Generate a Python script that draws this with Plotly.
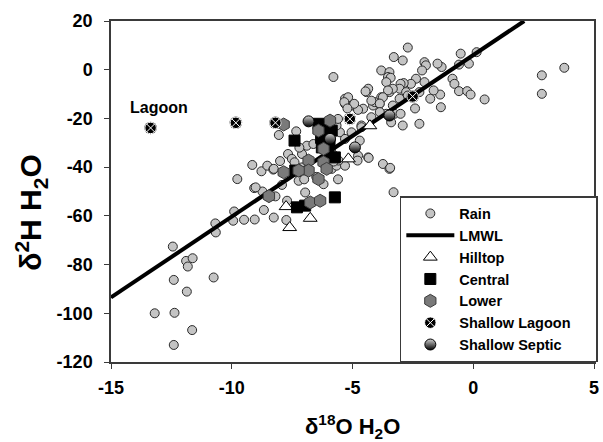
import plotly.graph_objects as go

# ---------------- data ----------------
rain_x = [-13.19, -12.37, -12.4, -11.64, -12.44, -11.89, -11.62, -11.82, -12.40, -10.75, -11.86,
          -10.68, -10.66, -9.90, -9.94, -9.49, -9.05, -8.67, -8.26, -7.74,
          -9.77, -9.15, -8.77, -8.53, -8.28, -9.07, -8.73, -8.19, -7.71, -7.67, -7.51, -8.05, -7.33,
          -7.92, -7.09, -6.89, -6.62, -7.09, -5.86, -5.66, -5.52, -5.66, -5.31, -4.97, -5.31, -4.42,
          -4.15, -3.88, -3.81, -3.47, -3.33, -3.26, -3.6, -4.63, -5.04, -4.7, -5.31, -4.77, -4.35,
          -3.74, -3.47, -3.30, -5.31, -5.58, -6.96, -9.01, -7.23, -8.26,
          3.77, 2.84, 2.84, 0.47, 0.14, -0.52, -0.18, -0.59, -0.86, -0.78, -0.59, -0.25, -0.11,
          -1.34, -1.37, -1.78, -1.64, -1.31, -1.48, -2.02, -1.96, -2.71, -3.29, -2.92, -2.12,
          -2.02, -2.37, -2.58, -2.88, -3.01, -3.05, -3.81, -3.47, -3.53, -3.42, -3.6, -3.33,
          -3.53, -4.35, -4.46, -2.78, -2.71, -2.23, -3.05, -2.41, -2.23, -2.92, -3.4, -3.01,
          -3.74, -4.08, -4.22, -3.87, -4.56, -4.77, -4.93, -5.18, -5.34, -5.21, -5.79, -4.22,
          -3.87, -4.63, -5.6, -4.79, -4.33, -3.44, -5.78, -5.78,
          -6.0, -5.9, -6.5, -7.0, -6.2, -5.6, -7.4, -8.0, -7.2]
rain_y = [-100, -99.8, -113, -106.9, -72.6, -78.5, -77.4, -80.8, -86.3, -85.3, -91.1,
          -63.1, -66.8, -58.2, -62.0, -61.6, -61.5, -57.6, -60.7, -61.7,
          -44.9, -39.1, -41.7, -39.4, -41.0, -48.6, -50.0, -52.0, -53.8, -34.6, -36.6, -26.8, -25.3,
          -47.3, -34.6, -31.2, -30.5, -40.1, -40.7, -39.4, -25.7, -22.9, -14.0, -14.7, -11.9, -9.2,
          -14.7, -14.0, -11.3, -9.2, -14.7, -18.1, -18.1, -22.9, -25.7, -29.1, -28.4, -35.3, -36.0,
          -38.7, -40.7, -50.3, -39.4, -37.3, -50.4, -48.3, -45.6, -40.7,
          0.8, -2.3, -9.9, -12.2, 7.2, 6.6, 2.5, 2.1, -3.7, -5.8, -8.8, -8.8, -10.2,
          -15.4, -10.2, -11.9, -8.5, 1.1, 2.5, 3.1, 1.8, 9.1, 5.2, 3.8, -0.3,
          -5.1, -3.7, -5.8, -5.5, -5.8, -7.8, -0.3, -1.0, -3.0, -3.3, -5.1, -7.8,
          -8.5, -7.8, -8.9, -9.2, -10.6, -9.2, -11.9, -15.9, -22.2, -22.9, -21.6, -18.1,
          -11.3, -13.3, -12.7, -13.9, -16.0, -16.5, -14.0, -11.3, -13.3, -15.9, -3.0, -19.5,
          -17.4, -23.6, -20.2, -37.3, -36.2, -40.3, -35.0, -37.7,
          -28.0, -33.0, -44.0, -45.0, -47.0, -45.0, -38.0, -37.5, -32.0]

lmwl_x = [-15.0, 2.11]
lmwl_y = [-93.5, 20.0]

hill_x = [-7.75, -7.6, -6.75, -5.17, -4.28]
hill_y = [-56.2, -64.8, -61.0, -36.6, -23.0]

cent_x = [-7.4, -6.41, -6.1, -5.86, -6.3, -5.95, -6.27, -5.73, -6.0, -7.37, -7.3, -6.96, -5.73]
cent_y = [-29.1, -22.2, -23.5, -25.0, -28.0, -30.0, -31.9, -36.0, -34.0, -41.4, -56.5, -55.8, -52.4]

low_x = [-7.85, -5.93, -6.41, -6.2, -6.82, -6.2, -6.82, -7.23, -7.85, -6.41, -6.07, -8.46, -6.75, -6.34]
low_y = [-22.5, -20.9, -25.0, -32.5, -37.3, -38.0, -41.4, -41.4, -42.1, -44.9, -40.7, -51.9, -54.5, -53.8]

lag_x = [-13.36, -9.83, -8.19, -5.11, -2.51]
lag_y = [-23.9, -21.8, -21.8, -20.2, -11.0]

sep_x = [-6.82, -5.93, -4.9, -3.47]
sep_y = [-21.2, -28.4, -31.9, -18.8]

x_ticks = [-15, -10, -5, 0, 5]
y_ticks = [20, 0, -20, -40, -60, -80, -100, -120]

FONT = "Liberation Sans, Arial"
PAD = "\u00a0" * 5   # trailing non-breaking spaces: widen legend box to the frame

# ---------------- figure ----------------
fig = go.Figure()
fig.add_trace(go.Scatter(x=rain_x, y=rain_y, mode="markers", name="Rain",
                         marker=dict(symbol="circle", size=9, color="#c4c4c4",
                                     line=dict(color="#2a2a2a", width=1))))
fig.add_trace(go.Scatter(x=lmwl_x, y=lmwl_y, mode="lines", name="LMWL",
                         line=dict(color="black", width=4)))
fig.add_trace(go.Scatter(x=hill_x, y=hill_y, mode="markers", name="Hilltop",
                         marker=dict(symbol="triangle-up", size=12, color="white",
                                     line=dict(color="black", width=1))))
fig.add_trace(go.Scatter(x=cent_x, y=cent_y, mode="markers", name="Central",
                         marker=dict(symbol="square", size=11, color="black",
                                     line=dict(color="black", width=1))))
fig.add_trace(go.Scatter(x=low_x, y=low_y, mode="markers", name="Lower",
                         marker=dict(symbol="hexagon", size=13, color="#7a7a7a",
                                     line=dict(color="#3a3a3a", width=1))))
fig.add_trace(go.Scatter(x=lag_x, y=lag_y, mode="markers", showlegend=False,
                         legendgroup="lag", hoverinfo="skip",
                         marker=dict(symbol="circle", size=12.5, color="black")))
fig.add_trace(go.Scatter(x=lag_x, y=lag_y, mode="markers", name="Shallow Lagoon" + PAD,
                         legendgroup="lag",
                         marker=dict(symbol="circle-x", size=11.5, color="black",
                                     line=dict(color="white", width=1))))
fig.add_trace(go.Scatter(x=sep_x, y=sep_y, mode="markers", name="Shallow Septic",
                         marker=dict(symbol="circle", size=11, color="#d0d0d0",
                                     gradient=dict(type="vertical", color="black"),
                                     line=dict(color="black", width=1))))

fig.add_annotation(x=-13.0, y=-15.5, text="<b>Lagoon</b>", showarrow=False,
                   xanchor="center", yanchor="middle",
                   font=dict(family=FONT, size=16, color="black"))

fig.add_annotation(xref="paper", yref="paper", x=-0.166, y=0.44,
                   xanchor="center", yanchor="middle",
                   text="<b>δ<sup>2</sup>H H<sub>2</sub>O</b>", textangle=-90, showarrow=False,
                   font=dict(family=FONT, size=30, color="black"))
fig.add_annotation(xref="paper", yref="paper", x=0.499, y=-0.19,
                   xanchor="center", yanchor="middle",
                   text="<b>δ<sup>18</sup>O H<sub>2</sub>O</b>", showarrow=False,
                   font=dict(family=FONT, size=22, color="black"))

axis_common = dict(showgrid=False, zeroline=False, showline=True, linecolor="#3a3a3a",
                   linewidth=1.5, mirror=True, ticks="outside", ticklen=5, tickwidth=1,
                   tickcolor="#3a3a3a", ticklabeloverflow="allow",
                   tickfont=dict(family=FONT, size=18, color="black", weight="bold"))
fig.update_xaxes(range=[-15, 5], tickvals=x_ticks, ticktext=[str(v) for v in x_ticks],
                 ticklabelstandoff=4, **axis_common)
fig.update_yaxes(range=[-120, 20], tickvals=y_ticks, ticktext=[str(v) for v in y_ticks],
                 ticklabelstandoff=8, **axis_common)

fig.update_layout(
    width=603, height=442,
    margin=dict(l=111, r=5, t=21, b=80),
    paper_bgcolor="white", plot_bgcolor="white",
    showlegend=True,
    legend=dict(x=0.598, y=0.0, xanchor="left", yanchor="bottom",
                bgcolor="white", bordercolor="#3a3a3a", borderwidth=1.5,
                font=dict(family=FONT, size=14.5, color="black", weight="bold"),
                itemwidth=48, tracegroupgap=0),
)

fig.write_html("out.html", config={"displayModeBar": False},
               post_script="document.body.style.margin='0px';document.body.style.padding='0px';")
